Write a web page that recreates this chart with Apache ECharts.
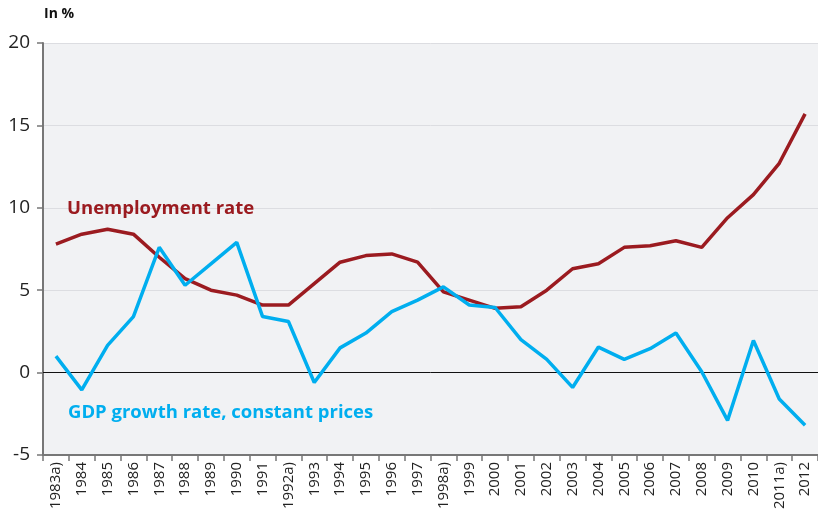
<!DOCTYPE html>
<html>
<head>
<meta charset="utf-8">
<script src="https://cdn.jsdelivr.net/npm/echarts@6/dist/echarts.min.js"></script>
<style>
  html, body { margin: 0; padding: 0; background: #fff; }
  #main { width: 818px; height: 515px; }
</style>
</head>
<body>
<div id="main"></div>
<script>
// years (x axis)
var years = ['1983a)', '1984', '1985', '1986', '1987', '1988', '1989', '1990', '1991', '1992a)',
  '1993', '1994', '1995', '1996', '1997', '1998a)', '1999', '2000', '2001', '2002',
  '2003', '2004', '2005', '2006', '2007', '2008', '2009', '2010', '2011a)', '2012'];

// unemployment rate, %
var unemployment = [7.8, 8.4, 8.7, 8.4, 7.0, 5.7, 5.0, 4.7, 4.1, 4.1,
  5.4, 6.7, 7.1, 7.2, 6.7, 4.9, 4.4, 3.9, 4.0, 5.0,
  6.3, 6.6, 7.6, 7.7, 8.0, 7.6, 9.4, 10.8, 12.7, 15.7];

// GDP growth rate, constant prices, %
var gdp = [1.0, -1.05, 1.65, 3.4, 7.6, 5.3, 6.6, 7.9, 3.4, 3.1,
  -0.6, 1.5, 2.4, 3.7, 4.4, 5.2, 4.1, 3.95, 2.0, 0.8,
  -0.9, 1.55, 0.8, 1.45, 2.4, 0.05, -2.9, 1.95, -1.6, -3.2];

var yTicks = [-5, 0, 5, 10, 15, 20];

var myChart = echarts.init(document.getElementById('main'));

var option = {
  animation: false,
  textStyle: { fontFamily: 'Open Sans' },
  grid: {
    left: 43, right: 0, top: 43, bottom: 60,
    show: true, backgroundColor: '#f1f2f4', borderWidth: 0
  },
  xAxis: {
    type: 'category',
    data: years,
    boundaryGap: true,
    axisLine: { onZero: false, lineStyle: { color: '#777', width: 2 } },
    axisTick: { show: true, alignWithLabel: false, length: 6, lineStyle: { color: '#777', width: 1.5 } },
    axisLabel: { rotate: 90, color: '#222', fontSize: 15, interval: 0, margin: 7 }
  },
  yAxis: {
    type: 'value',
    min: yTicks[0], max: yTicks[yTicks.length - 1], interval: 5,
    axisLine: { show: true, lineStyle: { color: '#777', width: 2 } },
    axisTick: { show: true, length: 6, lineStyle: { color: '#777', width: 1.5 } },
    axisLabel: { color: '#222', fontSize: 19, margin: 13 },
    splitLine: { show: true, lineStyle: { color: '#dcdde1', width: 1 } }
  },
  series: [{
    name: 'Unemployment rate',
    type: 'line',
    data: unemployment,
    symbol: 'none',
    lineStyle: { color: '#9b1b20', width: 3.5 },
    z: 3
  }, {
    name: 'GDP growth rate, constant prices',
    type: 'line',
    data: gdp,
    symbol: 'none',
    lineStyle: { color: '#00aeef', width: 3.5 },
    z: 4,
    markLine: {
      silent: true,
      symbol: 'none',
      label: { show: false },
      lineStyle: { color: '#111', width: 1, type: 'solid' },
      data: [{ yAxis: 0 }],
      z: 1
    }
  }],
  graphic: [
    { type: 'text', left: 44, top: 7, z: 100,
      style: { text: 'In %', fontSize: 14, fontWeight: 'bold', fill: '#111', fontFamily: 'Open Sans' } },
    { type: 'text', left: 67, top: 199, z: 100,
      style: { text: 'Unemployment rate', fontSize: 18.5, fontWeight: 'bold', fill: '#9b1b20', fontFamily: 'Open Sans' } },
    { type: 'text', left: 68, top: 403, z: 100,
      style: { text: 'GDP growth rate, constant prices', fontSize: 18.5, fontWeight: 'bold', fill: '#00aeef', fontFamily: 'Open Sans' } }
  ]
};
myChart.setOption(option);
</script>
</body>
</html>
